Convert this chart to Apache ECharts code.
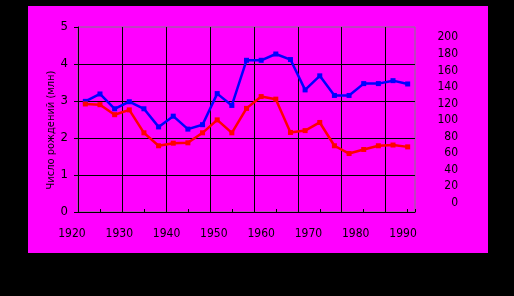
<!DOCTYPE html>
<html><head><meta charset="utf-8">
<script src="https://cdn.jsdelivr.net/npm/echarts@6/dist/echarts.min.js"></script>
<style>html,body{margin:0;padding:0;background:#000}#c{width:514px;height:296px}</style>
</head><body><div id="c"></div>
<script>
const yearLabels = [1920, 1930, 1940, 1950, 1960, 1970, 1980, 1990];
const leftTicks = [0, 1, 2, 3, 4, 5];
const rightTicks = [0, 20, 40, 60, 80, 100, 120, 140, 160, 180, 200];
const blueSeries = [2.99, 3.19, 2.79, 2.98, 2.79, 2.30, 2.59, 2.24, 2.36, 3.20, 2.88, 4.10, 4.10, 4.27, 4.12, 3.30, 3.68, 3.15, 3.15, 3.47, 3.47, 3.55, 3.46];
const redSeries = [2.92, 2.90, 2.63, 2.76, 2.14, 1.79, 1.86, 1.87, 2.14, 2.49, 2.14, 2.80, 3.12, 3.05, 2.15, 2.20, 2.42, 1.79, 1.58, 1.69, 1.79, 1.81, 1.76];
const yTitle = 'Число рождений (млн)';

const FONT = "'Liberation Sans Narrow', 'DejaVu Sans Condensed', 'Liberation Sans', sans-serif";
const chart = echarts.init(document.getElementById('c'), null, {renderer: 'canvas'});
const toPts = arr => arr.map((v, i) => [i + 0.5, v]);
const lineSeries = (data, color) => ({
  type: 'line', xAxisIndex: 0, yAxisIndex: 0, data: toPts(data),
  symbol: 'rect', symbolSize: 5, showSymbol: true,
  lineStyle: {color: color, width: 2.5}, itemStyle: {color: color}, z: 5
});
const hiddenAxis = (grid, extra) => Object.assign({type: 'value', gridIndex: grid, show: false, min: 0, max: 1}, extra || {});
chart.setOption({
  backgroundColor: '#000',
  animation: false,
  graphic: [
    {type: 'rect', shape: {x: 28, y: 6, width: 460, height: 247}, style: {fill: '#ff00ff'}, z: -10, silent: true},
    {type: 'text', x: 51.5, y: 130, rotation: Math.PI / 2,
     style: {text: yTitle, font: '11px ' + FONT, fill: '#000', align: 'center', verticalAlign: 'middle'}, z: 10}
  ],
  grid: [
    {left: 78, top: 27, width: 337, height: 185, show: true, borderColor: '#808080', borderWidth: 1, backgroundColor: 'transparent'},
    {left: 24.7, top: 27, width: 425.6, height: 185},
    {left: 460, top: 37.3, width: 10, height: 165.4}
  ],
  xAxis: [
    {type: 'value', gridIndex: 0, min: 0, max: 23, interval: 3,
     axisLine: {show: true, onZero: false, lineStyle: {color: '#000', width: 1}},
     axisTick: {show: true, inside: true, length: 3, lineStyle: {color: '#000'}},
     minorTick: {show: true, splitNumber: 2, length: 3, lineStyle: {color: '#000'}},
     axisLabel: {show: false},
     splitLine: {show: true, showMinLine: false, showMaxLine: false, lineStyle: {color: '#000', width: 1}}},
    {type: 'value', gridIndex: 1, min: 1910, max: 2000, interval: 10,
     axisLine: {show: false}, axisTick: {show: false}, splitLine: {show: false},
     axisLabel: {show: true, margin: 16, color: '#000', fontSize: 12, fontFamily: FONT,
       showMinLabel: false, showMaxLabel: false,
       formatter: v => yearLabels.indexOf(v) >= 0 ? String(v) : ''}},
    hiddenAxis(2)
  ],
  yAxis: [
    {type: 'value', gridIndex: 0, min: leftTicks[0], max: leftTicks[leftTicks.length - 1], interval: 1,
     axisLine: {show: true, lineStyle: {color: '#000', width: 1}},
     axisTick: {show: true, inside: false, length: 4, lineStyle: {color: '#000'}},
     axisLabel: {show: true, margin: 10, color: '#000', fontSize: 13, fontFamily: FONT},
     splitLine: {show: true, showMinLine: false, showMaxLine: false, lineStyle: {color: '#000', width: 1}}},
    hiddenAxis(1),
    {type: 'value', gridIndex: 2, position: 'left', min: rightTicks[0], max: rightTicks[rightTicks.length - 1], interval: 20,
     axisLine: {show: false}, axisTick: {show: false}, splitLine: {show: false},
     axisLabel: {show: true, margin: 2, color: '#000', fontSize: 12, fontFamily: FONT}}
  ],
  series: [lineSeries(blueSeries, '#0000ff'), lineSeries(redSeries, '#ff0000')]
});
</script></body></html>
